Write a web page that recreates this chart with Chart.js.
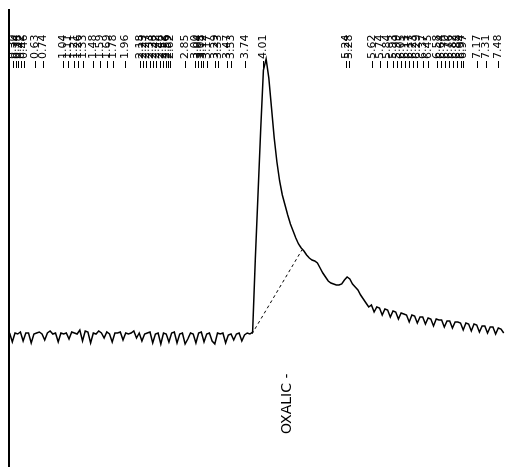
<!DOCTYPE html>
<html>
<head>
<meta charset="utf-8">
<script src="https://cdn.jsdelivr.net/npm/chart.js@4.4.0/dist/chart.umd.min.js"></script>
<style>
  body { margin: 0; background: #fff; }
  #wrap { width: 505px; height: 467px; }
</style>
</head>
<body>
<div id="wrap"><canvas id="myChart"></canvas></div>
<script>
// detector trace, sampled every 0.04 min from 0.25 min
var sampleStart = 0.25;
var sampleStep = 0.04;
var signal = [
    // baseline
    3,-6,3,2,4,-5,3,3,-7,2,
    3,4,2,-4,3,5,2,3,-6,3,
    2,3,-3,4,3,2,6,-5,5,4,
    -7,3,2,5,3,-2,4,2,-6,3,
    3,4,-4,3,2,3,5,-2,3,-5,
    2,3,4,-7,2,3,-8,3,2,-6,
    3,4,-7,2,3,-8,-3,3,2,-7,
    3,4,-6,2,3,-5,-8,3,2,3,
    -7,1,2,-4,2,3,-5,1,3,2,
    // peak
    4,77,142,207,266,277,258,228,198,174,
    155,141,131,121,112,105,98,92,88,85,
    81,78,76,75,73,68,63,59,55,53,
    52,51,51,52,56,59,57,52,49,46,
    41,37,33,29,
    // tail
    31,24,29,28,21,27,26,19,25,24,
    17,23,22,21,14,21,20,13,19,19,
    12,18,17,10,17,16,16,9,15,15,
    8,14,14,13,6,13,12,5,12,11,
    4,10,10,3,9,9,2,8,7,3
];

// integration baseline under the peak
var baseTimes = [3.84, 4.58];
var baseValues = [2, 86];

// retention time labels along the top
var rtLabels = ['0.30','0.34','0.38','0.42','0.46','0.63','0.74','1.04','1.11','1.21',
    '1.26','1.33','1.48','1.59','1.69','1.78','1.96','2.18','2.23','2.27',
    '2.33','2.38','2.42','2.48','2.52','2.56','2.59','2.62','2.85','3.00',
    '3.04','3.08','3.12','3.17','3.29','3.33','3.47','3.53','3.74','4.01',
    '5.24','5.28','5.62','5.74','5.84','5.93','5.99','6.05','6.11','6.17',
    '6.23','6.29','6.37','6.45','6.58','6.64','6.70','6.76','6.82','6.88',
    '6.94','6.97','7.17','7.31','7.48'];

var peakNames = ['OXALIC -'];
var peakNameTimes = [4.37];

var xMin = 0.226, xMax = 7.589;
var yMin = -131, yMax = 327;

var trace = signal.map(function (v, i) {
    return { x: sampleStart + i * sampleStep, y: v };
});
var baseLine = baseTimes.map(function (t, i) {
    return { x: t, y: baseValues[i] };
});

var labelPlugin = {
    id: 'chromLabels',
    afterDraw: function (chart) {
        var ctx = chart.ctx;
        var area = chart.chartArea;
        var xs = chart.scales.x;
        ctx.save();
        // left axis line
        ctx.strokeStyle = '#000';
        ctx.lineWidth = 2;
        ctx.beginPath();
        ctx.moveTo(area.left + 1, area.top);
        ctx.lineTo(area.left + 1, area.bottom);
        ctx.stroke();

        ctx.fillStyle = '#000';
        ctx.lineWidth = 1;
        ctx.font = '11px "DejaVu Sans"';
        ctx.textAlign = 'left';
        ctx.textBaseline = 'middle';
        rtLabels.forEach(function (txt) {
            var px = Math.round(xs.getPixelForValue(parseFloat(txt))) + 0.5;
            ctx.beginPath();
            ctx.moveTo(px, 61);
            ctx.lineTo(px, 68);
            ctx.stroke();
            ctx.save();
            ctx.translate(px, 59);
            ctx.rotate(-Math.PI / 2);
            ctx.fillText(txt, 0, 0);
            ctx.restore();
        });

        ctx.font = '14px "DejaVu Sans"';
        peakNames.forEach(function (name, i) {
            var px = xs.getPixelForValue(peakNameTimes[i]);
            ctx.save();
            ctx.translate(px, 434);
            ctx.rotate(-Math.PI / 2);
            ctx.fillText(name, 0, 0);
            ctx.restore();
        });
        ctx.restore();
    }
};

var ctx = document.getElementById('myChart');
new Chart(ctx, {
    type: 'line',
    data: {
        datasets: [
            {
                data: trace,
                borderColor: '#000',
                borderWidth: 1.5,
                pointRadius: 0,
                tension: 0
            },
            {
                data: baseLine,
                borderColor: '#000',
                borderWidth: 1,
                borderDash: [3, 3],
                pointRadius: 0
            }
        ]
    },
    options: {
        animation: false,
        responsive: true,
        maintainAspectRatio: false,
        layout: { padding: { left: 8, top: 9, right: 0, bottom: 0 } },
        plugins: { legend: { display: false }, tooltip: { enabled: false } },
        scales: {
            x: { type: 'linear', min: xMin, max: xMax, display: false },
            y: { min: yMin, max: yMax, display: false }
        }
    },
    plugins: [labelPlugin]
});
</script>
</body>
</html>
